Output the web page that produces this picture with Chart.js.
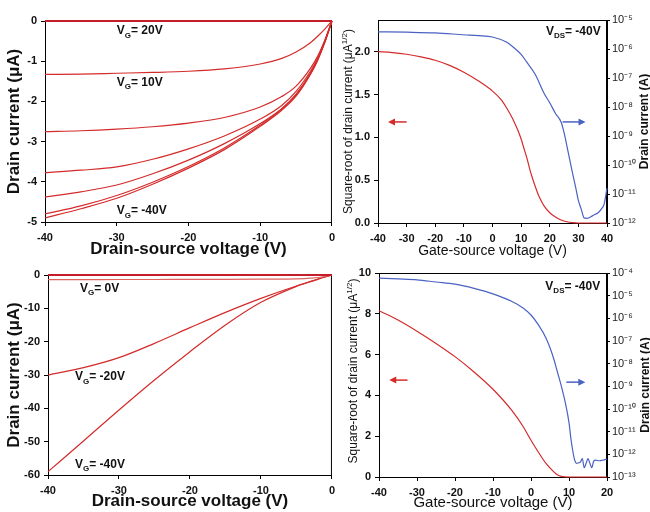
<!DOCTYPE html>
<html>
<head>
<meta charset="utf-8">
<script src="https://cdn.jsdelivr.net/npm/chart.js@4.4.1/dist/chart.umd.min.js"></script>
<style>
  html, body { margin: 0; padding: 0; background: #fff; width: 650px; height: 512px; overflow: hidden; position: relative; }
  canvas { position: absolute; }
</style>
</head>
<body>
<canvas id="p1" width="340" height="262" style="left:0;top:0"></canvas>
<canvas id="p2" width="320" height="262" style="left:330px;top:0"></canvas>
<canvas id="p3" width="340" height="262" style="left:0;top:250px"></canvas>
<canvas id="p4" width="320" height="262" style="left:330px;top:250px"></canvas>
<script>
const RED = '#d42b2b';
const RED_DARK = '#c41e2a';
const BLUE = '#4a62c2';
const FONT = "'Liberation Sans', Arial, sans-serif";

// ---- top-left: output curves, device A (uA vs V)
const vdsA = [-40, -35, -30, -25, -20, -15, -10, -7, -5, -3, -2, -1, 0];
const idA_vg20 = [0, 0, 0, 0, 0, 0, 0, 0, 0, 0, 0, 0, 0];
const idA_vg10 = [-1.33, -1.32, -1.30, -1.28, -1.25, -1.19, -1.07, -0.93, -0.77, -0.54, -0.38, -0.20, 0];
const idA_vg0 = [-2.75, -2.73, -2.69, -2.63, -2.54, -2.40, -2.14, -1.88, -1.62, -1.18, -0.88, -0.48, 0];
const idA_vgm10 = [-3.77, -3.71, -3.63, -3.44, -3.18, -2.86, -2.44, -2.10, -1.75, -1.25, -0.93, -0.50, 0];
const idA_vgm20 = [-4.38, -4.25, -4.08, -3.80, -3.46, -3.05, -2.55, -2.18, -1.82, -1.30, -0.96, -0.52, 0];
const idA_vgm30 = [-4.80, -4.60, -4.34, -4.01, -3.62, -3.16, -2.59, -2.19, -1.84, -1.31, -0.97, -0.53, 0];
const idA_vgm40 = [-4.90, -4.67, -4.41, -4.06, -3.66, -3.20, -2.62, -2.22, -1.87, -1.33, -0.98, -0.53, 0];

// ---- top-right: transfer curve, device A
const vgsA = [-40, -35, -30, -25, -20, -15, -10, -5, 0, 3, 5, 7, 9, 10, 11, 12, 13, 14, 15, 16, 17, 18, 20, 22, 24, 26, 28, 30, 32, 34, 36, 38, 40];
const sqrtA = [2.00, 1.99, 1.97, 1.94, 1.90, 1.84, 1.76, 1.66, 1.54, 1.44, 1.34, 1.22, 1.07, 0.98, 0.87, 0.76, 0.63, 0.52, 0.42, 0.33, 0.26, 0.20, 0.12, 0.07, 0.035, 0.015, 0.005, 0, 0, 0, 0, 0, 0];
const vgsAlog = [-40, -30, -20, -10, -5, 0, 5, 8, 10, 12, 15, 18, 20, 22, 24, 25, 26, 27, 28, 29, 30, 31, 32, 33, 35, 37, 38, 39, 40];
const idAlog = [3.9e-6, 3.8e-6, 3.6e-6, 3.1e-6, 2.9e-6, 2.6e-6, 1.7e-6, 1.0e-6, 6.5e-7, 3.5e-7, 1.3e-7, 3.0e-8, 1.4e-8, 6.0e-9, 3.0e-9, 1.3e-9, 4.5e-10, 1.5e-10, 5.0e-11, 1.8e-11, 6.0e-12, 3.0e-12, 1.5e-12, 1.45e-12, 1.8e-12, 2.3e-12, 3.0e-12, 4.5e-12, 1.6e-11];

// ---- bottom-left: output curves, device B
const vdsB = [-40, -35, -30, -25, -20, -15, -10, -5, -3, -1, 0];
const idB_vg20 = [0, 0, 0, 0, 0, 0, 0, 0, 0, 0, 0];
const idB_vg0 = [-1.4, -1.4, -1.35, -1.35, -1.3, -1.3, -1.25, -1.15, -0.95, -0.45, 0];
const idB_vgm20 = [-30, -27.8, -24.8, -20.5, -15.8, -11.2, -7.0, -3.3, -2.0, -0.6, 0];
const idB_vgm40 = [-59, -49.8, -40.5, -31.5, -23, -15, -8.2, -3.4, -1.9, -0.6, 0];

// ---- bottom-right: transfer curve, device B
const vgsB = [-40, -35, -30, -25, -20, -15, -10, -5, -2, 0, 2, 4, 6, 7, 8, 9, 10, 12, 15, 20];
const sqrtB = [8.15, 7.70, 7.15, 6.55, 5.90, 5.15, 4.30, 3.25, 2.45, 1.80, 1.20, 0.65, 0.25, 0.10, 0.03, 0.01, 0, 0, 0, 0];
const vgsBlog = [-40, -35, -30, -25, -20, -15, -10, -5, -2, 0, 2, 4, 5, 6, 7, 8, 9, 10, 10.5, 11, 11.5, 12, 12.5, 13, 13.5, 14, 14.5, 15, 15.5, 16, 16.5, 17, 18, 19, 20];
const idBlog = [6.0e-5, 5.5e-5, 5.0e-5, 4.0e-5, 3.2e-5, 2.1e-5, 1.2e-5, 5.5e-6, 2.8e-6, 1.4e-6, 5.0e-7, 1.3e-7, 5.0e-8, 1.6e-8, 4.0e-9, 1.0e-9, 2.0e-10, 2.5e-11, 5.0e-12, 1.4e-12, 5.5e-13, 4.0e-13, 4.2e-13, 4.5e-13, 6.5e-13, 2.6e-13, 4.0e-13, 6.5e-13, 4.0e-13, 2.6e-13, 5.0e-13, 5.5e-13, 5.2e-13, 5.6e-13, 6.2e-13];

Chart.defaults.font.family = FONT;
Chart.defaults.color = '#111';

const pts = (xs, ys) => xs.map((x, i) => ({ x, y: ys[i] }));
const SUP = { '0': '⁰', '1': '¹', '2': '²', '3': '³', '4': '⁴', '5': '⁵', '6': '⁶', '7': '⁷', '8': '⁸', '9': '⁹', '-': '⁻' };
const pow10Label = (v) => '10' + String(Math.round(Math.log10(v))).split('').map((c) => SUP[c]).join('');

function richText(ctx, parts, x, y, opt) {
  const size = opt.size;
  const weight = opt.weight || 'normal';
  const f = (k) => weight + ' ' + (k ? Math.round(size * 0.68) : size) + 'px ' + FONT;
  let w = 0;
  parts.forEach(([t, k]) => { ctx.font = f(k); w += ctx.measureText(t).width; });
  ctx.save();
  ctx.translate(x, y);
  if (opt.rotate) ctx.rotate(opt.rotate);
  let cx = opt.align === 'center' ? -w / 2 : opt.align === 'right' ? -w : 0;
  ctx.fillStyle = opt.color || '#111';
  ctx.textBaseline = 'alphabetic';
  const base = size * 0.36;
  parts.forEach(([t, k]) => {
    ctx.font = f(k);
    const dy = k === 'sub' ? size * 0.3 : k === 'sup' ? -size * 0.42 : 0;
    ctx.fillText(t, cx, base + dy);
    cx += ctx.measureText(t).width;
  });
  ctx.restore();
}

function extras(notes, arrows, titles) {
  return {
    id: 'extras',
    beforeDatasetsDraw(chart) {
      const { ctx, chartArea: a } = chart;
      ctx.save();
      ctx.strokeStyle = '#000';
      ctx.lineWidth = 1;
      ctx.strokeRect(a.left + 0.5, a.top + 0.5, a.right - a.left - 1, a.bottom - a.top);
      ctx.restore();
    },
    afterDraw(chart) {
      const ctx = chart.ctx;
      const xs = chart.scales.x;
      notes.forEach((n) => {
        const ys = chart.scales[n.axis || 'y'];
        richText(ctx, n.parts, xs.getPixelForValue(n.x), ys.getPixelForValue(n.y), { size: 12, weight: 'bold', align: n.align || 'left' });
      });
      arrows.forEach((a) => {
        const ys = chart.scales[a.axis];
        const x1 = xs.getPixelForValue(a.x1), x2 = xs.getPixelForValue(a.x2), y = ys.getPixelForValue(a.y);
        const dir = Math.sign(x2 - x1);
        ctx.save();
        ctx.strokeStyle = a.color;
        ctx.fillStyle = a.color;
        ctx.lineWidth = 1.5;
        ctx.beginPath();
        ctx.moveTo(x1, y);
        ctx.lineTo(x2 - dir * 5, y);
        ctx.stroke();
        ctx.beginPath();
        ctx.moveTo(x2, y);
        ctx.lineTo(x2 - dir * 7, y - 3.5);
        ctx.lineTo(x2 - dir * 7, y + 3.5);
        ctx.closePath();
        ctx.fill();
        ctx.restore();
      });
      titles.forEach((t) => {
        const a = chart.chartArea;
        richText(ctx, t.parts, t.x, (a.top + a.bottom) / 2 + (t.dy || 0), { size: t.size, weight: t.weight, align: 'center', rotate: -Math.PI / 2 });
      });
    }
  };
}

function xAxis(min, max, step, h, title, titleFont, titlePad) {
  return {
    type: 'linear', position: 'bottom', min, max,
    ticks: { stepSize: step, padding: 5, font: { size: 11, weight: 'bold' }, color: '#111', callback: (v) => String(v) },
    grid: { drawOnChartArea: false, color: '#000', tickLength: 4 },
    border: { color: '#000' },
    title: { display: true, text: title, font: titleFont, color: '#111', padding: { top: 0, bottom: titlePad } },
    afterFit: (s) => { s.height = h; }
  };
}

function yAxis(min, max, step, w, fmt, title) {
  return {
    type: 'linear', position: 'left', min, max,
    ticks: { stepSize: step, includeBounds: false, padding: 4, font: { size: 11, weight: 'bold' }, color: '#111', callback: fmt },
    grid: { drawOnChartArea: false, color: '#000', tickLength: 4 },
    border: { color: '#000' },
    title: title ? { display: true, text: title, font: { size: 17, weight: 'bold', lineHeight: 1.2 }, color: '#111', padding: { top: 4, bottom: 0 } } : { display: false },
    afterFit: (s) => { s.width = w; }
  };
}

function logAxis(lo, hi, w) {
  const exps = [];
  for (let e = lo; e <= hi; e++) exps.push(e);
  return {
    type: 'logarithmic', position: 'right', min: Math.pow(10, lo), max: Math.pow(10, hi),
    afterBuildTicks: (s) => { s.ticks = exps.map((e) => ({ value: Math.pow(10, e) })); },
    ticks: { padding: 2, font: { size: 11 }, color: '#222', callback: (v) => pow10Label(v) },
    grid: { drawOnChartArea: false, color: '#000', tickLength: 3 },
    border: { color: '#000' },
    afterFit: (s) => { s.width = w; }
  };
}

function line(xs, ys, color, yAxisID, width) {
  return {
    data: pts(xs, ys), borderColor: color, borderWidth: width || 1.2, pointRadius: 0,
    cubicInterpolationMode: 'monotone', fill: false, clip: 3, yAxisID: yAxisID || 'y'
  };
}

const common = (padding) => ({
  responsive: false, animation: false, devicePixelRatio: 1,
  layout: { padding },
  plugins: { legend: { display: false }, tooltip: { enabled: false } }
});

const VG = (val) => [['V', ''], ['G', 'sub'], ['= ' + val, '']];
const VDS = (val) => [['V', ''], ['DS', 'sub'], ['= ' + val, '']];
const sqrtTitle = [['Square-root of drain current (μA', ''], ['1/2', 'sup'], [')', '']];

// top-left
new Chart(document.getElementById('p1'), {
  type: 'line',
  data: {
    datasets: [
      line(vdsA, idA_vg20, RED_DARK, 'y', 2.2),
      line(vdsA, idA_vg10, RED),
      line(vdsA, idA_vg0, RED),
      line(vdsA, idA_vgm10, RED),
      line(vdsA, idA_vgm20, RED),
      line(vdsA, idA_vgm30, RED),
      line(vdsA, idA_vgm40, RED)
    ]
  },
  options: Object.assign(common({ left: 0, top: 21, right: 8, bottom: 0 }), {
    scales: {
      x: xAxis(-40, 0, 10, 40, 'Drain-source voltage (V)', { size: 17, weight: 'bold', lineHeight: 1.2 }, 2),
      y: yAxis(-5, 0, 1, 45, (v) => String(v), 'Drain current (μA)')
    }
  }),
  plugins: [extras([
    { parts: VG('20V'), x: -30, y: -0.22 },
    { parts: VG('10V'), x: -30, y: -1.5 },
    { parts: VG('-40V'), x: -30, y: -4.7 }
  ], [], [])]
});

// top-right
new Chart(document.getElementById('p2'), {
  type: 'line',
  data: {
    datasets: [
      line(vgsA, sqrtA, RED, 'y'),
      line(vgsAlog, idAlog, BLUE, 'y2')
    ]
  },
  options: Object.assign(common({ left: 0, top: 20, right: 0, bottom: 0 }), {
    scales: {
      x: xAxis(-40, 40, 10, 39, 'Gate-source voltage (V)', { size: 14, lineHeight: 1.2 }, 2),
      y: yAxis(0, 2.37, 0.5, 48, (v) => v.toFixed(1), null),
      y2: logAxis(-12, -5, 43)
    }
  }),
  plugins: [extras([
    { parts: VDS('-40V'), x: 37.8, y: 2.25, align: 'right' }
  ], [
    { x1: -30, x2: -36.5, y: 1.18, axis: 'y', color: RED },
    { x1: 24.5, x2: 32.5, y: 1.18, axis: 'y', color: BLUE }
  ], [
    { parts: sqrtTitle, x: 18, size: 12 },
    { parts: [['Drain current (A)', '']], x: 314, size: 12, weight: 'bold' }
  ])]
});

// bottom-left
new Chart(document.getElementById('p3'), {
  type: 'line',
  data: {
    datasets: [
      line(vdsB, idB_vg20, RED_DARK, 'y', 2.2),
      line(vdsB, idB_vg0, '#e06060'),
      line(vdsB, idB_vgm20, RED),
      line(vdsB, idB_vgm40, RED)
    ]
  },
  options: Object.assign(common({ left: 0, top: 25, right: 7, bottom: 0 }), {
    scales: {
      x: xAxis(-40, 0, 10, 37, 'Drain-source voltage (V)', { size: 17, weight: 'bold', lineHeight: 1.2 }, 0),
      y: yAxis(-60, 0, 10, 48, (v) => String(v), 'Drain current (μA)')
    }
  }),
  plugins: [extras([
    { parts: VG('0V'), x: -35.5, y: -3.7 },
    { parts: VG('-20V'), x: -36.2, y: -30.2 },
    { parts: VG('-40V'), x: -36.2, y: -56.5 }
  ], [], [])]
});

// bottom-right
new Chart(document.getElementById('p4'), {
  type: 'line',
  data: {
    datasets: [
      line(vgsB, sqrtB, RED, 'y'),
      line(vgsBlog, idBlog, BLUE, 'y2')
    ]
  },
  options: Object.assign(common({ left: 0, top: 23, right: 0, bottom: 0 }), {
    scales: {
      x: xAxis(-40, 20, 10, 35, 'Gate-source voltage (V)', { size: 15, lineHeight: 1.2 }, 0),
      y: yAxis(0, 10, 2, 49, (v) => String(v), null),
      y2: logAxis(-13, -4, 43)
    }
  }),
  plugins: [extras([
    { parts: VDS('-40V'), x: 18.2, y: 9.4, align: 'right' }
  ], [
    { x1: -32.5, x2: -37.3, y: 4.75, axis: 'y', color: RED },
    { x1: 9.3, x2: 14.3, y: 4.65, axis: 'y', color: BLUE }
  ], [
    { parts: sqrtTitle, x: 23, size: 12, dy: -4 },
    { parts: [['Drain current (A)', '']], x: 315, size: 12, weight: 'bold', dy: 10 }
  ])]
});
</script>
</body>
</html>
